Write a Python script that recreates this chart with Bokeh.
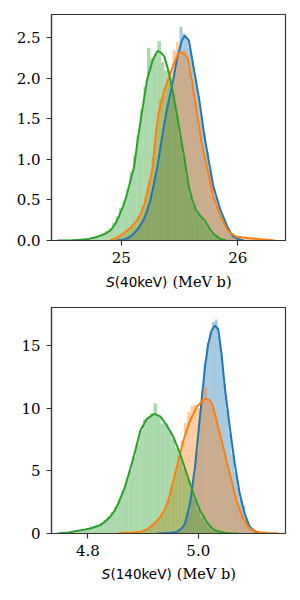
from bokeh.plotting import figure
from bokeh.layouts import column
from bokeh.models import FixedTicker, NumeralTickFormatter, Range1d
from bokeh.core.properties import value
from bokeh.embed import file_html
from bokeh.resources import INLINE
import numpy as np

C0, C1, C2 = "#1f77b4", "#ff7f0e", "#2ca02c"

# ---------------- Panel 1 : S(40keV) ----------------
p1_xticks = [25, 26]
p1_yticks = [0, 0.5, 1.0, 1.5, 2.0, 2.5]
p1_label = ("S", "(40keV)", "(MeV b)")

p1_blue_start, p1_blue_width = 24.975, 0.025
p1_blue_counts = [0.00, 0.01, 0.02, 0.04, 0.06, 0.09, 0.13, 0.18, 0.25, 0.33,
                  0.45, 0.58, 0.75, 0.92, 1.15, 1.38, 1.60, 1.72, 1.92, 2.10,
                  2.30, 2.64, 2.56, 2.50, 2.38, 2.22, 2.00, 1.78, 1.55, 1.32,
                  1.10, 0.88, 0.68, 0.54, 0.42, 0.32, 0.22, 0.15, 0.10, 0.06,
                  0.04, 0.02, 0.01]
p1_orange_start, p1_orange_width = 24.90, 0.03
p1_orange_counts = [0.01, 0.02, 0.04, 0.06, 0.09, 0.13, 0.16, 0.22, 0.30, 0.42,
                    0.55, 0.75, 1.02, 1.40, 1.75, 1.80, 1.95, 2.10, 2.35, 2.45,
                    2.30, 2.35, 2.15, 1.95, 1.72, 1.40, 1.15, 0.95, 0.75, 0.55,
                    0.42, 0.30, 0.20, 0.14, 0.09, 0.06, 0.05, 0.04, 0.03, 0.03,
                    0.02, 0.02, 0.01, 0.01, 0.01, 0.00, 0.01]
p1_green_start, p1_green_width = 24.50, 0.03
p1_green_counts = [0.01, 0.00, 0.01, 0.00, 0.01, 0.01, 0.02, 0.02, 0.04, 0.05,
                   0.06, 0.08, 0.12, 0.15, 0.22, 0.30, 0.40, 0.48, 0.62, 0.85,
                   1.05, 1.30, 1.62, 1.90, 2.38, 2.25, 2.30, 2.46, 2.20, 2.10,
                   2.00, 1.80, 1.55, 1.28, 1.05, 0.78, 0.55, 0.42, 0.33, 0.27,
                   0.22, 0.15, 0.09, 0.05, 0.02, 0.01]

p1_blue_kde_x = [24.96, 25.02, 25.07, 25.11, 25.15, 25.19, 25.22, 25.25, 25.28, 25.31,
                 25.35, 25.39, 25.44, 25.48, 25.52, 25.545, 25.58, 25.62, 25.67, 25.71,
                 25.75, 25.79, 25.85, 25.91, 25.96, 26.00, 26.05]
p1_blue_kde_y = [0.00, 0.01, 0.04, 0.09, 0.16, 0.25, 0.36, 0.50, 0.70, 0.91,
                 1.28, 1.61, 1.94, 2.25, 2.47, 2.53, 2.47, 2.14, 1.73, 1.32,
                 0.99, 0.67, 0.38, 0.17, 0.05, 0.02, 0.00]
p1_orange_kde_x = [24.90, 24.94, 24.98, 25.02, 25.09, 25.13, 25.17, 25.20, 25.22, 25.25,
                   25.27, 25.29, 25.32, 25.37, 25.41, 25.45, 25.49, 25.52, 25.55, 25.57,
                   25.61, 25.65, 25.69, 25.74, 25.79, 25.85, 25.91, 25.98, 26.08, 26.17,
                   26.25, 26.32]
p1_orange_kde_y = [0.00, 0.02, 0.05, 0.09, 0.17, 0.24, 0.34, 0.46, 0.58, 0.76,
                   0.91, 1.24, 1.57, 1.86, 2.02, 2.18, 2.31, 2.32, 2.29, 2.25,
                   1.94, 1.57, 1.20, 0.87, 0.54, 0.30, 0.13, 0.05, 0.03, 0.02,
                   0.01, 0.00]
p1_green_kde_x = [24.45, 24.55, 24.65, 24.72, 24.78, 24.82, 24.87, 24.91, 24.95, 24.98,
                  25.02, 25.05, 25.08, 25.11, 25.14, 25.18, 25.22, 25.27, 25.31, 25.34,
                  25.37, 25.41, 25.45, 25.49, 25.54, 25.58, 25.61, 25.64, 25.68, 25.72,
                  25.76, 25.80, 25.85, 25.90]
p1_green_kde_y = [0.00, 0.00, 0.01, 0.02, 0.04, 0.06, 0.09, 0.13, 0.21, 0.30,
                  0.44, 0.58, 0.75, 0.91, 1.24, 1.61, 1.98, 2.23, 2.34, 2.32,
                  2.27, 2.06, 1.77, 1.45, 1.03, 0.66, 0.50, 0.38, 0.30, 0.24,
                  0.14, 0.07, 0.02, 0.00]

# ---------------- Panel 2 : S(140keV) ----------------
p2_xticks = [4.8, 5.0]
p2_yticks = [0, 5, 10, 15]
p2_label = ("S", "(140keV)", "(MeV b)")

p2_blue_start, p2_blue_width = 4.930, 0.005
p2_blue_counts = [0.03, 0.03, 0.05, 0.06, 0.09, 0.12, 0.18, 0.30, 0.55, 1.00,
                  1.80, 3.00, 4.60, 6.60, 9.00, 11.40, 13.60, 15.20, 16.10, 16.90,
                  17.10, 15.80, 14.30, 12.00, 9.90, 8.00, 6.30, 4.90, 3.70, 2.70,
                  2.20, 1.20, 0.70, 0.35, 0.15, 0.06, 0.03, 0.01]
p2_orange_start, p2_orange_width = 4.860, 0.006
p2_orange_counts = [0.02, 0.03, 0.04, 0.05, 0.08, 0.12, 0.18, 0.28, 0.45, 0.70,
                    0.95, 1.25, 1.60, 2.10, 2.80, 3.80, 5.00, 6.20, 7.40, 8.80,
                    9.70, 10.20, 10.30, 10.00, 10.60, 11.70, 10.50, 10.20, 9.50, 8.40,
                    7.30, 6.20, 5.00, 4.10, 3.00, 2.10, 1.40, 0.90, 0.50, 0.30,
                    0.18, 0.10, 0.06, 0.04, 0.02, 0.02, 0.01]
p2_green_start, p2_green_width = 4.750, 0.0065
p2_green_counts = [0.02, 0.03, 0.05, 0.08, 0.12, 0.18, 0.25, 0.35, 0.45, 0.55,
                   0.70, 0.85, 1.10, 1.35, 1.70, 2.10, 2.70, 3.40, 4.20, 5.00,
                   6.10, 7.20, 8.20, 9.10, 9.30, 9.60, 10.40, 9.40, 8.80, 8.70,
                   8.20, 7.60, 6.80, 6.00, 5.20, 4.40, 3.60, 2.70, 1.90, 1.25,
                   0.85, 0.50, 0.30, 0.18, 0.10, 0.06, 0.04, 0.02, 0.01]

p2_blue_kde_x = [4.925, 4.945, 4.961, 4.970, 4.976, 4.985, 4.994, 5.000, 5.006, 5.012,
                 5.018, 5.024, 5.030, 5.036, 5.042, 5.048, 5.057, 5.066, 5.075, 5.084,
                 5.093, 5.105, 5.118]
p2_blue_kde_y = [0.00, 0.03, 0.13, 0.40, 0.80, 2.39, 5.31, 7.97, 10.62, 13.27,
                 15.14, 16.20, 16.60, 16.33, 14.34, 11.68, 8.49, 5.58, 3.19, 1.59,
                 0.53, 0.10, 0.00]
p2_orange_kde_x = [4.855, 4.861, 4.880, 4.895, 4.905, 4.913, 4.922, 4.931, 4.939, 4.946,
                   4.955, 4.964, 4.973, 4.985, 4.997, 5.009, 5.016, 5.022, 5.027, 5.036,
                   5.045, 5.057, 5.069, 5.081, 5.093, 5.102, 5.111, 5.125, 5.138, 5.145]
p2_orange_kde_y = [0.00, 0.05, 0.08, 0.13, 0.28, 0.53, 0.85, 1.32, 1.90, 2.65,
                   4.25, 5.84, 7.43, 9.03, 10.09, 10.68, 10.76, 10.55, 10.09, 8.49,
                   6.90, 4.78, 2.65, 1.19, 0.40, 0.20, 0.10, 0.04, 0.02, 0.00]
p2_green_kde_x = [4.745, 4.765, 4.780, 4.795, 4.804, 4.822, 4.831, 4.840, 4.848, 4.855,
                  4.867, 4.876, 4.886, 4.895, 4.907, 4.920, 4.931, 4.943, 4.955, 4.967,
                  4.979, 4.991, 5.003, 5.015, 5.023, 5.030, 5.040, 5.051, 5.062, 5.072]
p2_green_kde_y = [0.00, 0.08, 0.20, 0.32, 0.40, 0.66, 0.95, 1.32, 1.80, 2.39,
                  3.71, 5.04, 6.64, 8.23, 9.16, 9.56, 9.35, 8.63, 7.70, 6.37,
                  4.78, 3.19, 1.86, 0.93, 0.50, 0.26, 0.12, 0.05, 0.02, 0.00]

SPINE = "#333333"
TICK_FONT = "DejaVu Serif"
FS = "15px"
LEFT, FW, FH, RIGHT = 51, 234, 226, 7


def make_panel(xr, yr, xticks, yticks, xfmt, yfmt, hists, kdes, top_border, bottom_border):
    p = figure(output_backend="svg", toolbar_location=None,
               frame_width=FW, frame_height=FH,
               min_border_left=LEFT, min_border_right=RIGHT,
               min_border_top=top_border, min_border_bottom=bottom_border,
               x_range=Range1d(*xr), y_range=Range1d(*yr))
    p.grid.visible = False
    p.outline_line_color = SPINE
    p.outline_line_width = 1.2
    p.background_fill_color = "white"
    p.border_fill_color = "white"

    # histograms under all density lines (matplotlib z-order)
    for start, width, counts, color in hists:
        counts = np.asarray(counts)
        left = start + width * np.arange(len(counts))
        p.quad(left=left, right=left + width, top=counts, bottom=0,
               fill_color=color, fill_alpha=0.4, line_color=None)
    for (kx, ky), color in zip(kdes, (C0, C1, C2)):
        p.line(kx, ky, line_color=color, line_width=2)

    for ax, ticks, fmt in ((p.xaxis[0], xticks, xfmt), (p.yaxis[0], yticks, yfmt)):
        ax.ticker = FixedTicker(ticks=ticks, minor_ticks=[])
        ax.formatter = NumeralTickFormatter(format=fmt)
        ax.major_tick_in = 0
        ax.major_tick_out = 5
        ax.minor_tick_in = 0
        ax.minor_tick_out = 0
        ax.axis_line_color = SPINE
        ax.axis_line_width = 1.2
        ax.major_tick_line_color = SPINE
        ax.major_tick_line_width = 1.2
        ax.major_label_text_font = TICK_FONT
        ax.major_label_text_font_size = FS
        ax.major_label_text_color = "black"
    p.xaxis[0].major_label_standoff = 6
    p.yaxis[0].major_label_standoff = 6
    return p


def make_label(parts, height, baseline, overlap):
    """x-axis title strip: italic S + sans '(..keV)' + serif ' (MeV b)'.
    Transparent, pulled up over the panel's bottom border."""
    s_txt, mid_txt, unit_txt = parts
    lf = figure(output_backend="svg", toolbar_location=None,
                frame_width=FW, frame_height=height,
                min_border_left=LEFT, min_border_right=RIGHT,
                min_border_top=0, min_border_bottom=0,
                x_axis_type=None, y_axis_type=None,
                x_range=Range1d(0, FW), y_range=Range1d(0, height),
                margin=(-overlap, 0, 0, 0))
    lf.grid.visible = False
    lf.outline_line_color = None
    lf.background_fill_alpha = 0
    lf.border_fill_alpha = 0
    w_s = 0.635 * 14
    sans_w = {"(": 0.39, ")": 0.39, "k": 0.579, "e": 0.615, "V": 0.684}
    w_mid = sum(sans_w.get(c, 0.636) for c in mid_txt) * 13.5
    w_gap = 0.318 * 14.5
    w_unit = 4.047 * 14.5
    total = w_s + w_mid + w_gap + w_unit
    x0 = FW / 2 - total / 2
    lf.text(x=[x0], y=[baseline], text=[s_txt], text_font=value("DejaVu Sans"),
            text_font_style="italic", text_font_size="14px",
            text_baseline="alphabetic", text_align="left", text_color="black")
    lf.text(x=[x0 + w_s], y=[baseline], text=[mid_txt], text_font=value("DejaVu Sans"),
            text_font_size="13.5px",
            text_baseline="alphabetic", text_align="left", text_color="black")
    lf.text(x=[x0 + w_s + w_mid + w_gap], y=[baseline], text=[unit_txt],
            text_font=value("DejaVu Serif"), text_font_size="14.5px",
            text_baseline="alphabetic", text_align="left", text_color="black")
    return lf


p1 = make_panel((24.40, 26.41), (0, 2.79), p1_xticks, p1_yticks, "0", "0.0",
                [(p1_blue_start, p1_blue_width, p1_blue_counts, C0),
                 (p1_orange_start, p1_orange_width, p1_orange_counts, C1),
                 (p1_green_start, p1_green_width, p1_green_counts, C2)],
                [(p1_blue_kde_x, p1_blue_kde_y),
                 (p1_orange_kde_x, p1_orange_kde_y),
                 (p1_green_kde_x, p1_green_kde_y)],
                14, 40)
l1 = make_label(p1_label, 34, 13, 20)

p2 = make_panel((4.734, 5.158), (0, 18.05), p2_xticks, p2_yticks, "0.0", "0",
                [(p2_blue_start, p2_blue_width, p2_blue_counts, C0),
                 (p2_orange_start, p2_orange_width, p2_orange_counts, C1),
                 (p2_green_start, p2_green_width, p2_green_counts, C2)],
                [(p2_blue_kde_x, p2_blue_kde_y),
                 (p2_orange_kde_x, p2_orange_kde_y),
                 (p2_green_kde_x, p2_green_kde_y)],
                13, 40)
l2 = make_label(p2_label, 34, 14, 20)

layout = column(p1, l1, p2, l2, spacing=0)
open("out.html", "w").write(file_html(layout, INLINE))
